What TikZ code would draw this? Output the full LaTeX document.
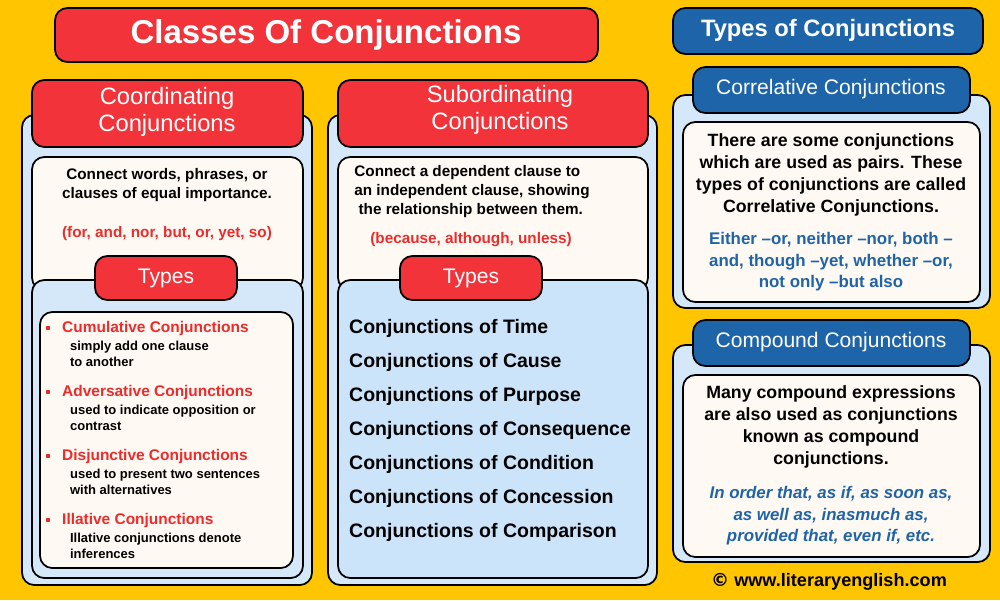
\documentclass[tikz,border=0pt]{standalone}
\usepackage{fontspec}
\setmainfont{Liberation Sans}
\newfontfamily\symfont{DejaVu Sans}
\definecolor{bgyel}{HTML}{FFC600}
\definecolor{hred}{HTML}{F2333A}
\definecolor{hblue}{HTML}{1E64A8}
\definecolor{panel}{HTML}{D5E8FA}
\definecolor{listblue}{HTML}{CCE4FA}
\definecolor{paper}{HTML}{FFF9F3}
\definecolor{tred}{HTML}{EE2B2B}
\definecolor{tblue}{HTML}{1F63A8}
\tikzset{
  box/.style={draw=black, line width=1pt, rounded corners=7pt},
  panelbox/.style={box, fill=panel},
  paperbox/.style={box, fill=paper},
  redhead/.style={box, fill=hred, text=white, align=center},
  bluehead/.style={box, fill=hblue, text=white, align=center},
  body/.style={font=\bfseries\fontsize{8.7}{10.8}\selectfont, align=center},
  item/.style={font=\bfseries\fontsize{11.1}{12}\selectfont, anchor=west},
  bhead/.style={font=\bfseries\fontsize{8.8}{10}\selectfont, text=tred, anchor=west},
  bsub/.style={font=\bfseries\fontsize{7.4}{8.8}\selectfont, anchor=north west, align=left, inner sep=1pt},
  bullet/.style={fill=tred, minimum size=2.5pt, inner sep=0pt}
}
\begin{document}
\begin{tikzpicture}[x=0.02cm,y=-0.02cm]
\fill[bgyel] (0,0) rectangle (1000,600);
\useasboundingbox (0,0) rectangle (1000,600);
% title
\draw[redhead] (55,8) rectangle (598,62);
\node[text=white, font=\bfseries\fontsize{18.8}{20}\selectfont] (title) at (326,35) {Classes Of Conjunctions};
% coordinating column
\draw[panelbox] (22,115) rectangle (312,585);
\draw[redhead] (32,80) rectangle (303,147);
\node[text=white, font=\fontsize{13.5}{15.5}\selectfont, align=center] (coord) at (167,112) {Coordinating\\Conjunctions};
\draw[paperbox] (32,157) rectangle (303,290);
\node[body] (coorddef) at (167,185) {Connect words, phrases, or\\clauses of equal importance.};
\node[body, text=tred] (coordex) at (167,234) {(for, and, nor, but, or, yet, so)};
\draw[panelbox] (32,280) rectangle (303,578);
\draw[redhead] (95,256) rectangle (237,300);
\node[text=white, font=\fontsize{12}{14}\selectfont] (ctypes) at (166,278) {Types};
\draw[paperbox] (40,312) rectangle (293,568);
\foreach \y/\h/\s in {328/Cumulative Conjunctions/{simply add one clause\\to another},
                      392/Adversative Conjunctions/{used to indicate opposition or\\contrast},
                      456/Disjunctive Conjunctions/{used to present two sentences\\with alternatives},
                      520/Illative Conjunctions/{Illative conjunctions denote\\inferences}}{
  \node[bullet] at (48,\y) {};
  \node[bhead] at (56,\y) {\h};
  \node[bsub] at (68,\y+11) {\s};
}
% subordinating column
\draw[panelbox] (328,115) rectangle (657,585);
\draw[redhead] (338,80) rectangle (648,147);
\node[text=white, font=\fontsize{13.5}{15.5}\selectfont, align=center] (subord) at (500,110) {Subordinating\\Conjunctions};
\draw[paperbox] (338,157) rectangle (648,290);
\node[body, align=left] (subdef) at (472,192) {Connect a dependent clause to\\an independent clause, showing\\\ the relationship between them.};
\node[body, text=tred] (subex) at (471,240) {(because, although, unless)};
\draw[box, fill=listblue] (338,280) rectangle (648,578);
\draw[redhead] (400,256) rectangle (542,300);
\node[text=white, font=\fontsize{12}{14}\selectfont] (stypes) at (471,278) {Types};
\foreach \t [count=\i] in {Time,Cause,Purpose,Consequence,Condition,Concession,Comparison}
  \node[item] at (343,294+34*\i) {Conjunctions of \t};
% correlative
\draw[bluehead] (673,8) rectangle (983,54);
\node[text=white, font=\bfseries\fontsize{13.5}{16}\selectfont] (types) at (828,30) {Types of Conjunctions};
\draw[panelbox] (673,95) rectangle (990,308);
\draw[bluehead] (693,67) rectangle (970,113);
\node[text=white, font=\fontsize{12}{14}\selectfont] (correl) at (831,89) {Correlative Conjunctions};
\draw[paperbox] (683,122) rectangle (980,302);
\node[body, font=\bfseries\fontsize{10.1}{12.4}\selectfont] (corrdef) at (831,175) {There are some conjunctions\\which are used as pairs. These\\types of conjunctions are called\\Correlative Conjunctions.};
\node[body, font=\bfseries\fontsize{9.6}{12.3}\selectfont, text=tblue] (correx) at (831,262) {Either --or, neither --nor, both --\\and, though --yet, whether --or,\\not only --but also};
% compound
\draw[panelbox] (673,345) rectangle (990,562);
\draw[bluehead] (693,320) rectangle (970,366);
\node[text=white, font=\fontsize{12}{14}\selectfont] (compound) at (831,342) {Compound Conjunctions};
\draw[paperbox] (683,375) rectangle (980,557);
\node[body, font=\bfseries\fontsize{10.1}{12.4}\selectfont] (compdef) at (831,427) {Many compound expressions\\are also used as conjunctions\\known as compound\\conjunctions.};
\node[body, font=\bfseries\itshape\fontsize{9.6}{12.3}\selectfont, text=tblue] (compex) at (831,516) {In order that, as if, as soon as,\\as well as, inasmuch as,\\provided that, even if, etc.};
% footer
\node[font=\bfseries\fontsize{10.3}{12}\selectfont] (footer) at (829,582) {{\symfont ©} www.literaryenglish.com};
\end{tikzpicture}
\end{document}
